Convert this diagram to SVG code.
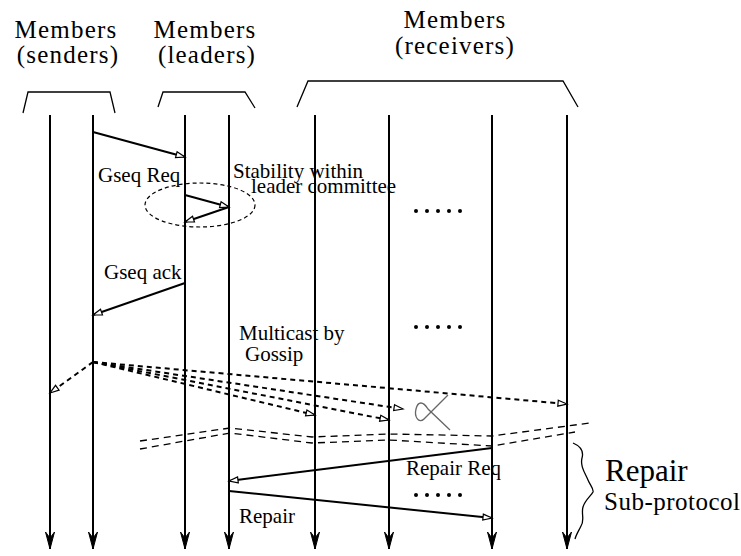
<svg xmlns="http://www.w3.org/2000/svg" width="741" height="556" viewBox="0 0 741 556" font-family="'Liberation Serif', 'DejaVu Serif', serif">
<defs>
<style>
text{font-family:'Liberation Serif','DejaVu Serif',serif;fill:#000}
.hdr{font-size:25px;letter-spacing:1.2px}
.lbl{font-size:21px}
.life{stroke:#000;stroke-width:2;fill:none;marker-end:url(#down)}
.brk{stroke:#000;stroke-width:1.3;fill:none}
.msg{stroke:#000;stroke-width:2;fill:none;marker-end:url(#open)}
.gos{stroke:#000;stroke-width:2;fill:none;stroke-dasharray:5 4;marker-end:url(#open)}
.band{stroke:#000;stroke-width:1.3;fill:none;stroke-dasharray:7 5}
.dot{fill:#000}
</style>
<marker id="open" markerUnits="userSpaceOnUse" markerWidth="12" markerHeight="10" refX="9" refY="3" orient="auto" overflow="visible">
<path d="M0,0 L9,3 L0,6 z" fill="#fff" stroke="#000" stroke-width="1.2" stroke-dasharray="none"/>
</marker>
<marker id="down" markerUnits="userSpaceOnUse" markerWidth="20" markerHeight="12" refX="0" refY="0" orient="auto" overflow="visible">
<path d="M0,0 L-17,-4.5 L-11,0 L-17,4.5 z" fill="#000" stroke="#000" stroke-width="1"/>
</marker>
</defs>

<g id="hdr-senders">
<text class="hdr" x="66" y="38" text-anchor="middle">Members</text>
<text class="hdr" x="68" y="63" text-anchor="middle">(senders)</text>
<polyline class="brk" points="23,113 28,92 110,92 115,113"/>
</g>
<g id="hdr-leaders">
<text class="hdr" x="205" y="38" text-anchor="middle">Members</text>
<text class="hdr" x="207" y="63" text-anchor="middle">(leaders)</text>
<polyline class="brk" points="158,107 163,92 245,92 255,108"/>
</g>
<g id="hdr-receivers">
<text class="hdr" x="455" y="28" text-anchor="middle">Members</text>
<text class="hdr" x="455" y="54" text-anchor="middle">(receivers)</text>
<polyline class="brk" points="297,107 308,81 563,81 578,107"/>
</g>

<g id="lifelines">
<line class="life" x1="50" y1="115" x2="50" y2="549"/>
<line class="life" x1="93" y1="115" x2="93" y2="549"/>
<line class="life" x1="185" y1="115" x2="185" y2="549"/>
<line class="life" x1="229" y1="115" x2="229" y2="549"/>
<line class="life" x1="315" y1="115" x2="315" y2="549"/>
<line class="life" x1="389" y1="115" x2="389" y2="549"/>
<line class="life" x1="492" y1="115" x2="492" y2="549"/>
<line class="life" x1="567" y1="115" x2="567" y2="549"/>
</g>

<g id="connectors">
<line class="msg" x1="93" y1="132" x2="185" y2="157"/>
<line class="msg" x1="185" y1="195" x2="229" y2="207"/>
<line class="msg" x1="229" y1="207" x2="185" y2="222"/>
<line class="msg" x1="185" y1="283" x2="93" y2="315"/>
<line class="gos" x1="93" y1="362" x2="50" y2="393"/>
<line class="gos" x1="93" y1="362" x2="567" y2="404"/>
<line class="gos" x1="93" y1="362" x2="403" y2="409"/>
<line class="gos" x1="93" y1="362" x2="389" y2="420"/>
<line class="gos" x1="93" y1="362" x2="315" y2="415"/>
<line class="msg" x1="492" y1="448" x2="229" y2="481"/>
<line class="msg" x1="229" y1="491" x2="492" y2="518"/>
</g>

<g id="stability">
<ellipse cx="200" cy="205" rx="55" ry="22" fill="none" stroke="#000" stroke-width="1.2" stroke-dasharray="4 3"/>
<text class="lbl" x="233" y="178">Stability within</text>
<text class="lbl" x="251" y="193">leader committee</text>
</g>

<g id="labels">
<text class="lbl" x="98" y="182">Gseq Req</text>
<text class="lbl" x="104" y="279">Gseq ack</text>
<text class="lbl" x="239" y="340">Multicast by</text>
<text class="lbl" x="245" y="361">Gossip</text>
<text class="lbl" x="406" y="475">Repair Req</text>
<text class="lbl" x="239" y="523">Repair</text>
</g>

<g id="dots">
<circle class="dot" cx="416" cy="211" r="2"/><circle class="dot" cx="427" cy="211" r="2"/><circle class="dot" cx="438" cy="211" r="2"/><circle class="dot" cx="449" cy="211" r="2"/><circle class="dot" cx="460" cy="211" r="2"/>
<circle class="dot" cx="416" cy="327" r="2"/><circle class="dot" cx="427" cy="327" r="2"/><circle class="dot" cx="438" cy="327" r="2"/><circle class="dot" cx="449" cy="327" r="2"/><circle class="dot" cx="460" cy="327" r="2"/>
<circle class="dot" cx="416" cy="495" r="2"/><circle class="dot" cx="427" cy="495" r="2"/><circle class="dot" cx="438" cy="495" r="2"/><circle class="dot" cx="449" cy="495" r="2"/><circle class="dot" cx="460" cy="495" r="2"/>
</g>

<g id="lost">
<path d="M448,395 L424,419 C419,424 414,417 416,409 C418,401 423,401 428,409 L450,430" fill="none" stroke="#666" stroke-width="1.3"/>
</g>

<g id="band">
<path class="band" d="M140,441 L230,428 L312,437 L389,434 L492,436 L590,423"/>
<path class="band" d="M140,449 L230,433 L312,443 L389,440 L492,446 L575,432"/>
</g>

<g id="repair">
<path d="M573,443 C580,446 584,451 582,458 C580,466 585,473 588,480 C590,485 594,489 593,492 C591,496 585,500 583,507 C581,514 585,520 581,526 C578,532 576,535 575,539" fill="none" stroke="#000" stroke-width="1.3"/>
<text x="605" y="481" style="font-size:31px">Repair</text>
<text x="604" y="510" style="font-size:25px;letter-spacing:0.5px">Sub-protocol</text>
</g>
</svg>
